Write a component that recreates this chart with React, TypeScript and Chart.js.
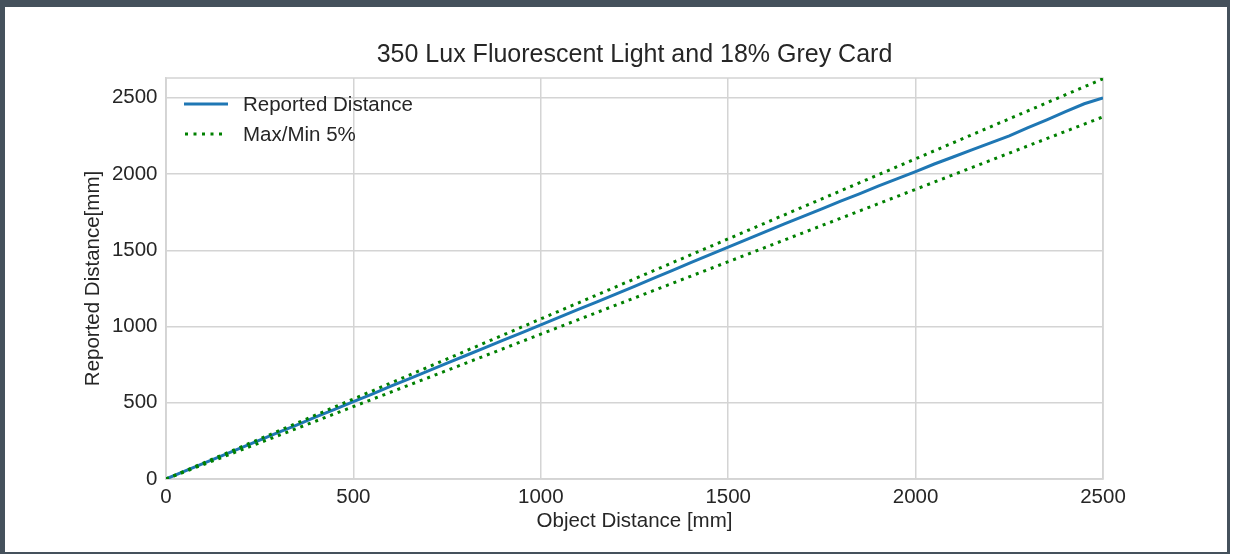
import { useEffect, useRef } from "react";
import { Chart, registerables } from "chart.js";

Chart.register(...registerables);

const FONT = "'Liberation Sans', Arial, Helvetica, sans-serif";
const TEXT = "#262626";
const GRID = "#d4d4d4";
const BLUE = "#1f77b4";
const GREEN = "#008000";

const titleText = "350 Lux Fluorescent Light and 18% Grey Card";
const xLabel = "Object Distance [mm]";
const yLabel = "Reported Distance[mm]";
const legendLabels = ["Reported Distance", "Max/Min 5%"];

const objectDistance = [
  0, 50, 100, 150, 200, 250, 300, 350, 400, 450, 500, 550, 600, 650, 700, 750, 800, 850, 900, 950,
  1000, 1050, 1100, 1150, 1200, 1250, 1300, 1350, 1400, 1450, 1500, 1550, 1600, 1650, 1700, 1750,
  1800, 1850, 1900, 1950, 2000, 2050, 2100, 2150, 2200, 2250, 2300, 2350, 2400, 2450, 2500,
];
const reportedDistance = [
  0, 52, 103, 153, 204, 255, 306, 355, 407, 457, 508, 557, 609, 659, 709, 760, 810, 860, 911, 960,
  1011, 1061, 1112, 1162, 1213, 1264, 1316, 1367, 1419, 1470, 1521, 1571, 1622, 1673, 1722, 1772,
  1822, 1870, 1921, 1968, 2016, 2066, 2112, 2158, 2205, 2250, 2304, 2356, 2410, 2461, 2500,
];
const boundX = [0, 2500];
const upperBound = [0, 2625];
const lowerBound = [0, 2375];
const xTicks = [0, 500, 1000, 1500, 2000, 2500];
const yTicks = [0, 500, 1000, 1500, 2000, 2500];

const framePlugin = {
  id: "frame",
  beforeDraw(chart: any) {
    const { ctx, width, height } = chart;
    ctx.save();
    ctx.fillStyle = "#ffffff";
    ctx.fillRect(0, 0, width, height);
    ctx.fillStyle = "#45515c";
    ctx.fillRect(0, 0, 1230, 7);
    ctx.fillRect(0, 0, 5, 554);
    ctx.fillRect(1227, 0, 3, 554);
    ctx.fillRect(0, 552, 1230, 2);
    ctx.restore();
  },
  beforeDatasetsDraw(chart: any) {
    const { ctx, chartArea } = chart;
    ctx.save();
    ctx.strokeStyle = GRID;
    ctx.lineWidth = 1.5;
    ctx.strokeRect(chartArea.left, chartArea.top, chartArea.right - chartArea.left, chartArea.bottom - chartArea.top);
    ctx.restore();
  },
  afterDraw(chart: any) {
    const { ctx, chartArea } = chart;
    const x0 = chartArea.left + 18;
    const y1 = chartArea.top + 26;
    const y2 = chartArea.top + 56;
    ctx.save();
    ctx.lineWidth = 3;
    ctx.strokeStyle = BLUE;
    ctx.beginPath();
    ctx.moveTo(x0, y1);
    ctx.lineTo(x0 + 44, y1);
    ctx.stroke();
    ctx.strokeStyle = GREEN;
    ctx.setLineDash([3, 5.5]);
    ctx.beginPath();
    ctx.moveTo(x0 + 1, y2);
    ctx.lineTo(x0 + 38, y2);
    ctx.stroke();
    ctx.setLineDash([]);
    ctx.fillStyle = TEXT;
    ctx.font = `20.5px ${FONT}`;
    ctx.textAlign = "left";
    ctx.textBaseline = "middle";
    ctx.fillText(legendLabels[0], x0 + 59, y1 + 1);
    ctx.fillText(legendLabels[1], x0 + 59, y2 + 1);
    ctx.restore();
  },
};

export default function App() {
  const ref = useRef<HTMLCanvasElement | null>(null);

  useEffect(() => {
    if (!ref.current) return;
    const toPts = (xs: number[], ys: number[]) => xs.map((x, i) => ({ x, y: ys[i] }));
    const chart = new Chart(ref.current, {
      type: "line",
      data: {
        datasets: [
          {
            label: "Max 5%",
            data: toPts(boundX, upperBound),
            borderColor: GREEN,
            borderWidth: 3,
            borderDash: [3, 5],
            pointRadius: 0,
            fill: false,
            order: 1,
          },
          {
            label: "Min 5%",
            data: toPts(boundX, lowerBound),
            borderColor: GREEN,
            borderWidth: 3,
            borderDash: [3, 5],
            pointRadius: 0,
            fill: false,
            order: 1,
          },
          {
            label: legendLabels[0],
            data: toPts(objectDistance, reportedDistance),
            borderColor: BLUE,
            borderWidth: 3,
            pointRadius: 0,
            fill: false,
            tension: 0,
            order: 2,
          },
        ],
      },
      options: {
        animation: false,
        responsive: false,
        events: [],
        layout: { padding: { left: 0, right: 132, top: 0, bottom: 0 } },
        plugins: {
          legend: { display: false },
          tooltip: { enabled: false },
          title: {
            display: true,
            fullSize: false,
            text: titleText,
            color: TEXT,
            font: { family: FONT, size: 25, weight: "normal" as any },
            padding: { top: 40.5, bottom: 7.5 },
          },
        },
        scales: {
          x: {
            type: "linear",
            min: 0,
            max: 2500,
            afterFit(scale: any) {
              scale.height = 75;
            },
            afterBuildTicks(scale: any) {
              scale.ticks = xTicks.map((v) => ({ value: v }));
            },
            ticks: {
              color: TEXT,
              font: { family: FONT, size: 20.5 },
              padding: 6,
              maxRotation: 0,
              callback: (v: any) => String(v),
            },
            grid: { color: GRID, lineWidth: 1.5, drawTicks: false },
            border: { display: true, color: GRID, width: 1.5 },
            title: {
              display: true,
              text: xLabel,
              color: TEXT,
              font: { family: FONT, size: 20.5 },
              padding: { top: 0, bottom: 20.7 },
            },
          },
          y: {
            type: "linear",
            min: 0,
            max: 2630,
            afterFit(scale: any) {
              scale.width = 166;
            },
            afterBuildTicks(scale: any) {
              scale.ticks = yTicks.map((v) => ({ value: v }));
            },
            ticks: {
              color: TEXT,
              font: { family: FONT, size: 20.5 },
              padding: 8.5,
              callback: (v: any) => String(v),
            },
            grid: { color: GRID, lineWidth: 1.5, drawTicks: false },
            border: { display: true, color: GRID, width: 1.5 },
            title: {
              display: true,
              text: yLabel,
              color: TEXT,
              font: { family: FONT, size: 20.5 },
              padding: { top: 80.7, bottom: 0 },
            },
          },
        },
      } as any,
      plugins: [framePlugin],
    });
    return () => chart.destroy();
  }, []);

  return (
    <div style={{ position: "absolute", left: 0, top: 0, width: 1235, height: 554, background: "#fff" }}>
      <canvas ref={ref} width={1235} height={554} style={{ display: "block", width: 1235, height: 554 }} />
    </div>
  );
}
